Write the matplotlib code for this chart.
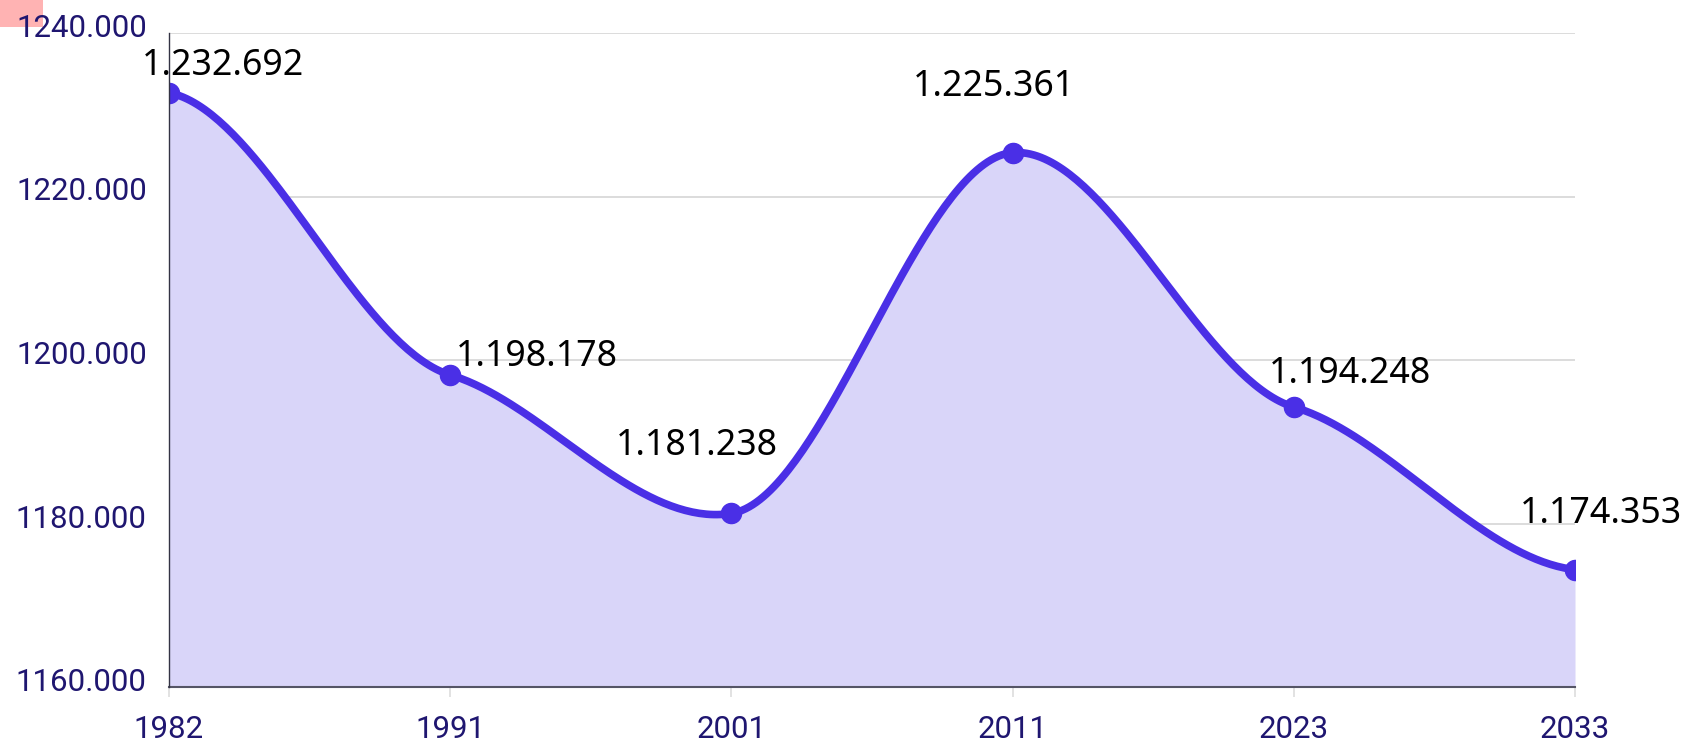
import numpy as np
import matplotlib
matplotlib.use("Agg")
import matplotlib.pyplot as plt
from matplotlib.transforms import ScaledTranslation
import matplotlib.patches as mpatches

categories = ["1982", "1991", "2001", "2011", "2023", "2033"]
values = [1232.692, 1198.178, 1181.238, 1225.361, 1194.248, 1174.353]
value_labels = ["1.232.692", "1.198.178", "1.181.238", "1.225.361", "1.194.248", "1.174.353"]
y_ticks = [1160, 1180, 1200, 1220, 1240]
y_tick_labels = ["1160.000", "1180.000", "1200.000", "1220.000", "1240.000"]

# label placement offsets in pixels (dx, dy of baseline relative to point)
label_offsets = [(54, 18), (87, 9), (-35, 58), (-19, 57), (56, 24), (26, 47)]

LINE = "#4a2fe6"
FILL = "#d9d5f9"
TICK = "#1f1670"
K = 0.4  # tangent scale of the smoothing

W, H, DPI = 1686, 742, 100
fig = plt.figure(figsize=(W / DPI, H / DPI), dpi=DPI)
ax = fig.add_axes([169 / W, 1 - 687 / H, (1575 - 169) / W, (687 - 33) / H])

x = np.arange(len(values), dtype=float)
y = np.array(values)
n = len(y)
m = np.zeros(n)
for i in range(n):
    if i == 0:
        m[i] = K * (y[1] - y[0]) / 2
    elif i == n - 1:
        m[i] = K * (y[-1] - y[-2]) / 2
    else:
        m[i] = K * (y[i + 1] - y[i - 1]) / 2

xs, ys = [], []
t = np.linspace(0, 1, 80)
h00 = 2 * t**3 - 3 * t**2 + 1
h10 = t**3 - 2 * t**2 + t
h01 = -2 * t**3 + 3 * t**2
h11 = t**3 - t**2
for i in range(n - 1):
    seg_x = x[i] + t
    seg_y = h00 * y[i] + h10 * m[i] + h01 * y[i + 1] + h11 * m[i + 1]
    xs.extend(seg_x if i == 0 else seg_x[1:])
    ys.extend(seg_y if i == 0 else seg_y[1:])
xs = np.array(xs)
ys = np.array(ys)

ax.fill_between(xs, ys, 1160, color=FILL, linewidth=0, zorder=2)
ax.plot(xs, ys, color=LINE, linewidth=5.5, solid_capstyle="round", zorder=3)
ax.plot(x, values, "o", color=LINE, markersize=14.5, zorder=4)

ax.set_xlim(0, n - 1)
ax.set_ylim(1160, 1240)

ax.set_yticks(y_ticks)
ax.set_yticklabels(y_tick_labels)
ax.set_xticks(x)
ax.set_xticklabels(categories)
ax.grid(axis="y", color="#d6d6d6", linewidth=1.2, zorder=1)
ax.tick_params(axis="y", length=0, pad=16, labelsize=22.5, labelcolor=TICK)
ax.tick_params(axis="x", length=7, width=1.2, color="#dddddd", pad=13, labelsize=22.5, labelcolor=TICK)
for lab in ax.get_yticklabels():
    lab.set_fontfamily("Roboto")
    lab.set_verticalalignment("baseline")
    lab.set_transform(lab.get_transform() + ScaledTranslation(0, -4 / DPI, fig.dpi_scale_trans))
for lab in ax.get_xticklabels():
    lab.set_fontfamily("Roboto")

for s in ["top", "right"]:
    ax.spines[s].set_visible(False)
ax.spines["left"].set_color("#333344")
ax.spines["left"].set_linewidth(1.0)
ax.spines["bottom"].set_color("#555566")
ax.spines["bottom"].set_linewidth(1.5)
ax.spines["left"].set_zorder(5)

for i, (v, txt) in enumerate(zip(values, value_labels)):
    dx, dy = label_offsets[i]
    ax.annotate(txt, (x[i], v), xytext=(dx * 0.72, dy * 0.72), textcoords="offset points",
                ha="center", va="baseline", fontsize=25.7, color="black",
                family="Noto Sans", zorder=6, annotation_clip=False)

fig.patches.append(mpatches.Rectangle((0, 1 - 27 / H), 43 / W, 27 / H, transform=fig.transFigure,
                                      facecolor="#ffb3b3", edgecolor="none", zorder=-5))

fig.savefig("out.png", dpi=DPI)
